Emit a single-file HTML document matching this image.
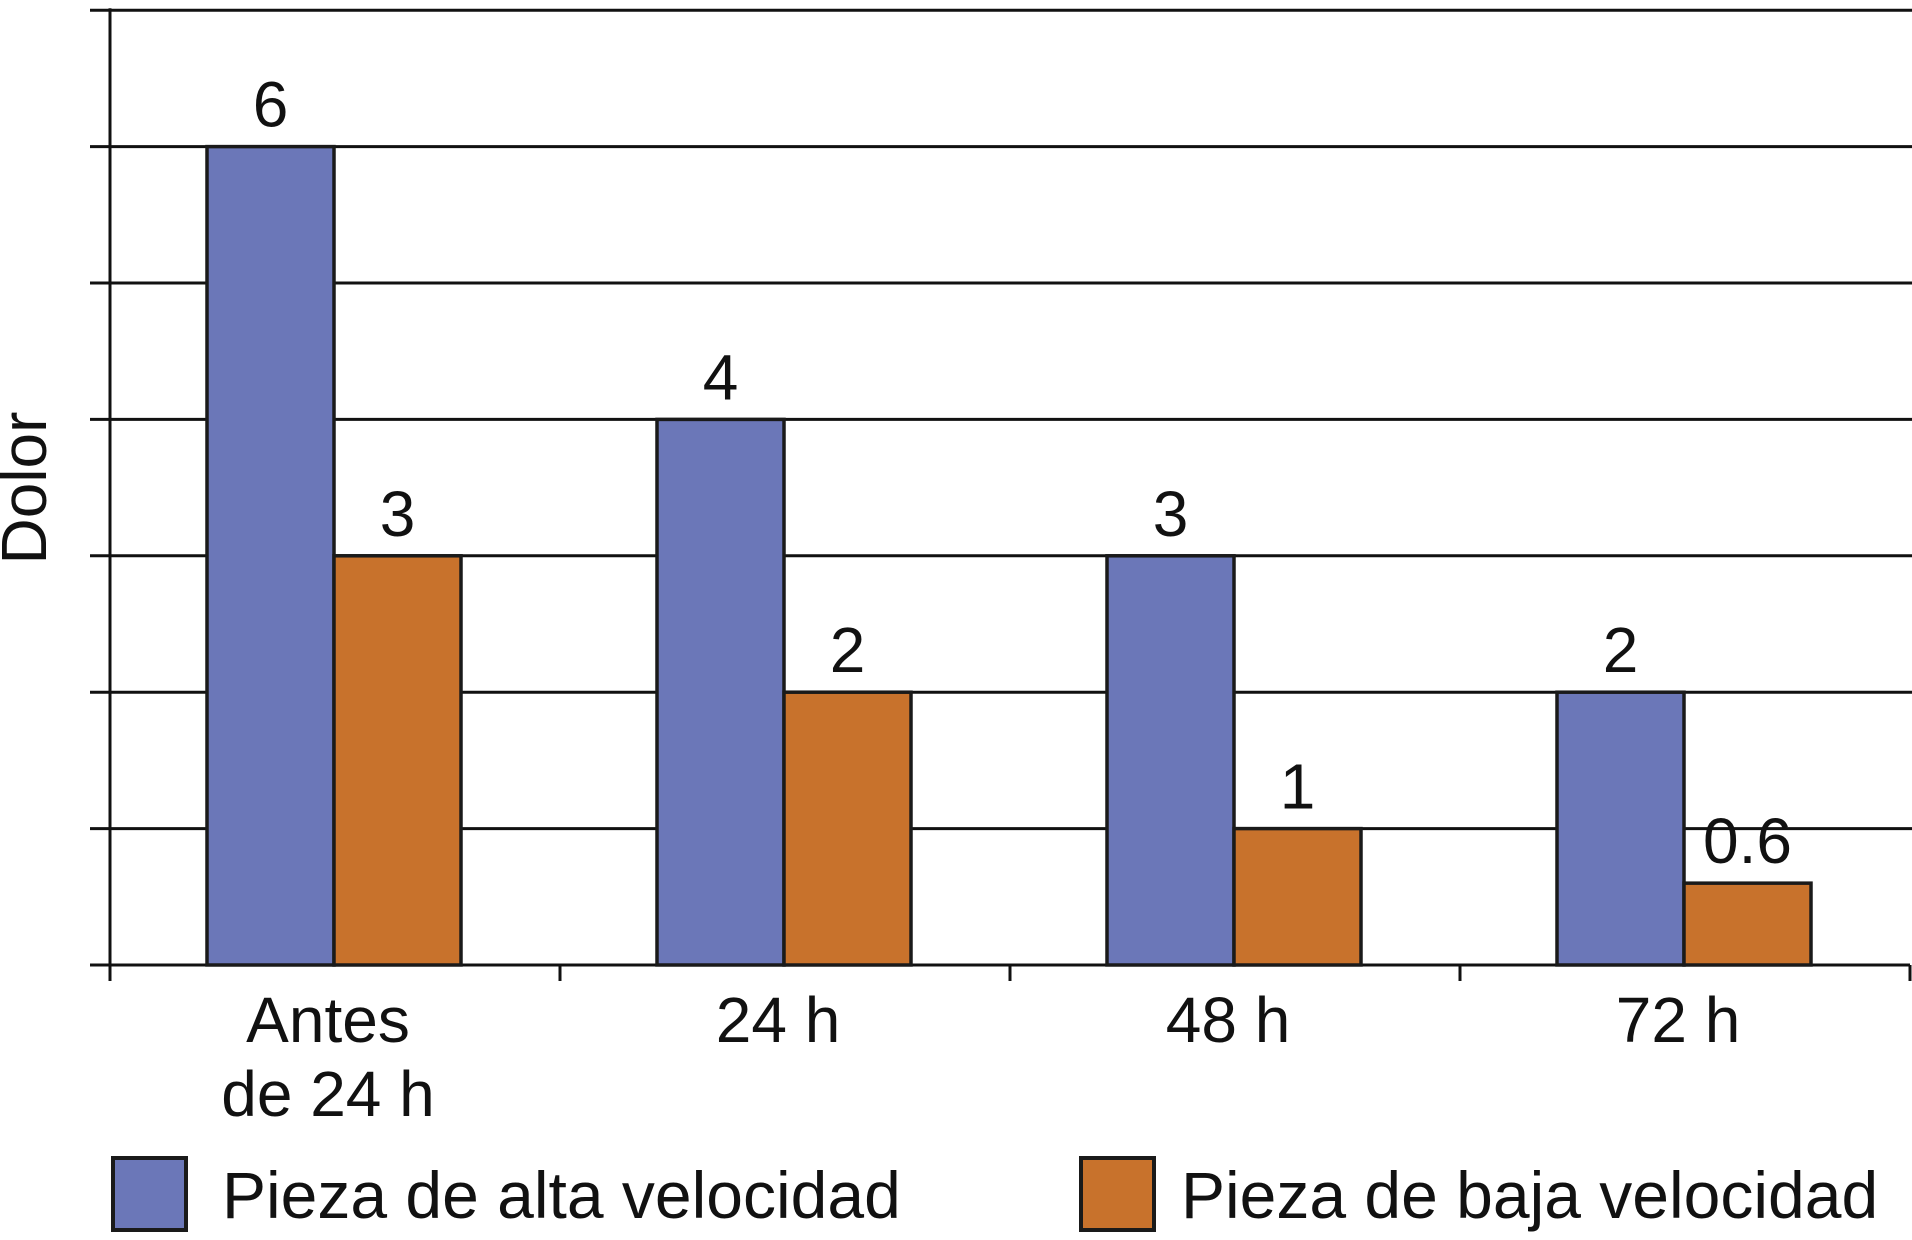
<!DOCTYPE html>
<html><head><meta charset="utf-8"><style>
body{margin:0;background:#fff;}
svg{display:block;font-family:"Liberation Sans",sans-serif;}
</style></head><body>
<svg id="chart" width="1912" height="1240" viewBox="0 0 1912 1240">
<g id="grid"></g><g id="bars"></g><g id="labels"></g>
<text x="0" y="0" transform="translate(46,488) rotate(-90)" text-anchor="middle" font-size="64" fill="#111">Dolor</text>
<rect x="113" y="1158" width="73" height="72" fill="#6b77b8" stroke="#1a1a1a" stroke-width="4"/>
<text x="222" y="1218" font-size="66" fill="#111">Pieza de alta velocidad</text>
<rect x="1081" y="1158" width="73" height="72" fill="#c8722c" stroke="#1a1a1a" stroke-width="4"/>
<text x="1181" y="1218" font-size="66" fill="#111">Pieza de baja velocidad</text>
</svg>
<script>
const categories = [["Antes","de 24 h"],["24 h"],["48 h"],["72 h"]];
const seriesAlta = [6,4,3,2];
const seriesBaja = [3,2,1,0.6];
const valueLabelsAlta = ["6","4","3","2"];
const valueLabelsBaja = ["3","2","1","0.6"];
const yTicks = [0,1,2,3,4,5,6,7];

const NS="http://www.w3.org/2000/svg";
const x0=110,x1=1910,base=965,unit=136.4;
const catW=(x1-x0)/categories.length;
const y=v=>base-v*unit;
const cx=i=>x0+i*catW;
function mk(tag,attrs,parent){const e=document.createElementNS(NS,tag);for(const k in attrs)e.setAttribute(k,attrs[k]);document.getElementById(parent).appendChild(e);return e;}

yTicks.forEach(t=>{
  const l=mk('line',{x1:90,x2:t===0?x1:1912,y1:y(t),y2:y(t),stroke:'#111','stroke-width':3},'grid');
  
  
});
const ax=mk('line',{x1:x0,x2:x0,y1:y(7)-2,y2:base+14,stroke:'#111','stroke-width':3},'grid');


for(let i=0;i<=categories.length;i++){
  const t=mk('line',{x1:cx(i),x2:cx(i),y1:base,y2:base+16,stroke:'#111','stroke-width':3},'grid');
  
  
}
const bw=127;
categories.forEach((c,i)=>{
  const bx=cx(i)+97;
  const b1=mk('rect',{x:bx,y:y(seriesAlta[i]),width:bw,height:base-y(seriesAlta[i]),fill:'#6b77b8',stroke:'#1a1a1a','stroke-width':3.5},'bars');
  
  
  const b2=mk('rect',{x:bx+bw,y:y(seriesBaja[i]),width:bw,height:base-y(seriesBaja[i]),fill:'#c8722c',stroke:'#1a1a1a','stroke-width':3.5},'bars');
  
  
  const t1=mk('text',{x:bx+bw/2,y:y(seriesAlta[i])-20,'text-anchor':'middle','font-size':64,fill:'#111'},'labels');
  t1.textContent=valueLabelsAlta[i];
  
  
  const t2=mk('text',{x:bx+bw*1.5,y:y(seriesBaja[i])-20,'text-anchor':'middle','font-size':64,fill:'#111'},'labels');
  t2.textContent=valueLabelsBaja[i];
  
  
  c.forEach((line,j)=>{
    const ct=mk('text',{x:bx+bw-6,y:1042+j*74,'text-anchor':'middle','font-size':64,fill:'#111'},'labels');
    ct.textContent=line;
    
    
  });
});
</script>
</body></html>
